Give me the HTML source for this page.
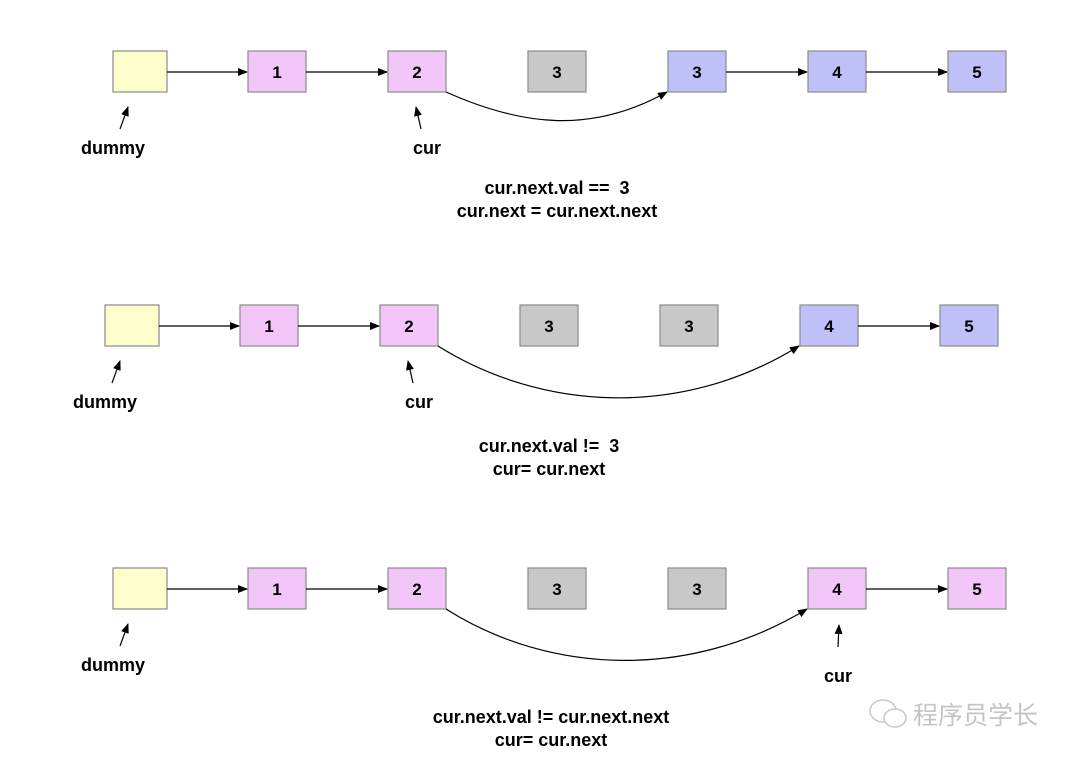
<!DOCTYPE html>
<html><head><meta charset="utf-8"><style>
body{margin:0;background:#fff}
svg{display:block}
text{font-family:"Liberation Sans","Noto Sans CJK SC",sans-serif;font-weight:bold}
</style></head><body>
<svg width="1080" height="763" viewBox="0 0 1080 763">
<defs><marker id="a" markerWidth="10" markerHeight="8" refX="9" refY="4" orient="auto" markerUnits="userSpaceOnUse"><path d="M0,0L10,4L0,8z" fill="#000"/></marker></defs>
<g stroke="#8a8a8a" stroke-width="1.2">
<rect x="113" y="51" width="54" height="41" fill="#fefecc"/>
<rect x="248" y="51" width="58" height="41" fill="#f2c6f8"/>
<rect x="388" y="51" width="58" height="41" fill="#f2c6f8"/>
<rect x="528" y="51" width="58" height="41" fill="#c8c8c8"/>
<rect x="668" y="51" width="58" height="41" fill="#c0c0f8"/>
<rect x="808" y="51" width="58" height="41" fill="#c0c0f8"/>
<rect x="948" y="51" width="58" height="41" fill="#c0c0f8"/>
<rect x="105" y="305" width="54" height="41" fill="#fefecc"/>
<rect x="240" y="305" width="58" height="41" fill="#f2c6f8"/>
<rect x="380" y="305" width="58" height="41" fill="#f2c6f8"/>
<rect x="520" y="305" width="58" height="41" fill="#c8c8c8"/>
<rect x="660" y="305" width="58" height="41" fill="#c8c8c8"/>
<rect x="800" y="305" width="58" height="41" fill="#c0c0f8"/>
<rect x="940" y="305" width="58" height="41" fill="#c0c0f8"/>
<rect x="113" y="568" width="54" height="41" fill="#fefecc"/>
<rect x="248" y="568" width="58" height="41" fill="#f2c6f8"/>
<rect x="388" y="568" width="58" height="41" fill="#f2c6f8"/>
<rect x="528" y="568" width="58" height="41" fill="#c8c8c8"/>
<rect x="668" y="568" width="58" height="41" fill="#c8c8c8"/>
<rect x="808" y="568" width="58" height="41" fill="#f2c6f8"/>
<rect x="948" y="568" width="58" height="41" fill="#f2c6f8"/>
</g>
<g stroke="#000" stroke-width="1.2" fill="none" marker-end="url(#a)">
<line x1="167" y1="72" x2="247" y2="72"/><line x1="306" y1="72" x2="387" y2="72"/>
<line x1="726" y1="72" x2="807" y2="72"/><line x1="866" y1="72" x2="947" y2="72"/>
<path d="M446,92 C520,125 590,135 667,92"/>
<line x1="159" y1="326" x2="239" y2="326"/><line x1="298" y1="326" x2="379" y2="326"/>
<line x1="858" y1="326" x2="939" y2="326"/>
<path d="M438,346 C540,410 680,420 799,346"/>
<line x1="167" y1="589" x2="247" y2="589"/><line x1="306" y1="589" x2="387" y2="589"/>
<line x1="866" y1="589" x2="947" y2="589"/>
<path d="M446,609 C550,675 690,680 807,609"/>
<line x1="120" y1="129" x2="128" y2="107"/><line x1="421" y1="129" x2="416" y2="107"/>
<line x1="112" y1="383" x2="120" y2="361"/><line x1="413" y1="383" x2="408" y2="361"/>
<line x1="120" y1="646" x2="128" y2="624"/><line x1="838" y1="647" x2="839" y2="625"/>
</g>
<g font-size="17" text-anchor="middle">
<text x="277" y="78">1</text><text x="417" y="78">2</text><text x="557" y="78">3</text><text x="697" y="78">3</text><text x="837" y="78">4</text><text x="977" y="78">5</text>
<text x="269" y="332">1</text><text x="409" y="332">2</text><text x="549" y="332">3</text><text x="689" y="332">3</text><text x="829" y="332">4</text><text x="969" y="332">5</text>
<text x="277" y="595">1</text><text x="417" y="595">2</text><text x="557" y="595">3</text><text x="697" y="595">3</text><text x="837" y="595">4</text><text x="977" y="595">5</text>
</g>
<g font-size="18" text-anchor="middle">
<text x="113" y="154">dummy</text><text x="427" y="154">cur</text>
<text x="105" y="408">dummy</text><text x="419" y="408">cur</text>
<text x="113" y="671">dummy</text><text x="838" y="682">cur</text>
<text x="557" y="194">cur.next.val ==&#160;&#160;3</text><text x="557" y="217">cur.next = cur.next.next</text>
<text x="549" y="452">cur.next.val !=&#160;&#160;3</text><text x="549" y="475">cur= cur.next</text>
<text x="551" y="723">cur.next.val != cur.next.next</text><text x="551" y="746">cur= cur.next</text>
</g>
<g fill="none" stroke="#c8c8c8" stroke-width="1.5">
<ellipse cx="883" cy="711" rx="13" ry="11"/><ellipse cx="895" cy="718" rx="11" ry="9" fill="#fff"/>
</g>
<text x="913" y="724" font-size="25" fill="#c4c4c4" style="font-weight:normal">程序员学长</text>
</svg>
</body></html>
